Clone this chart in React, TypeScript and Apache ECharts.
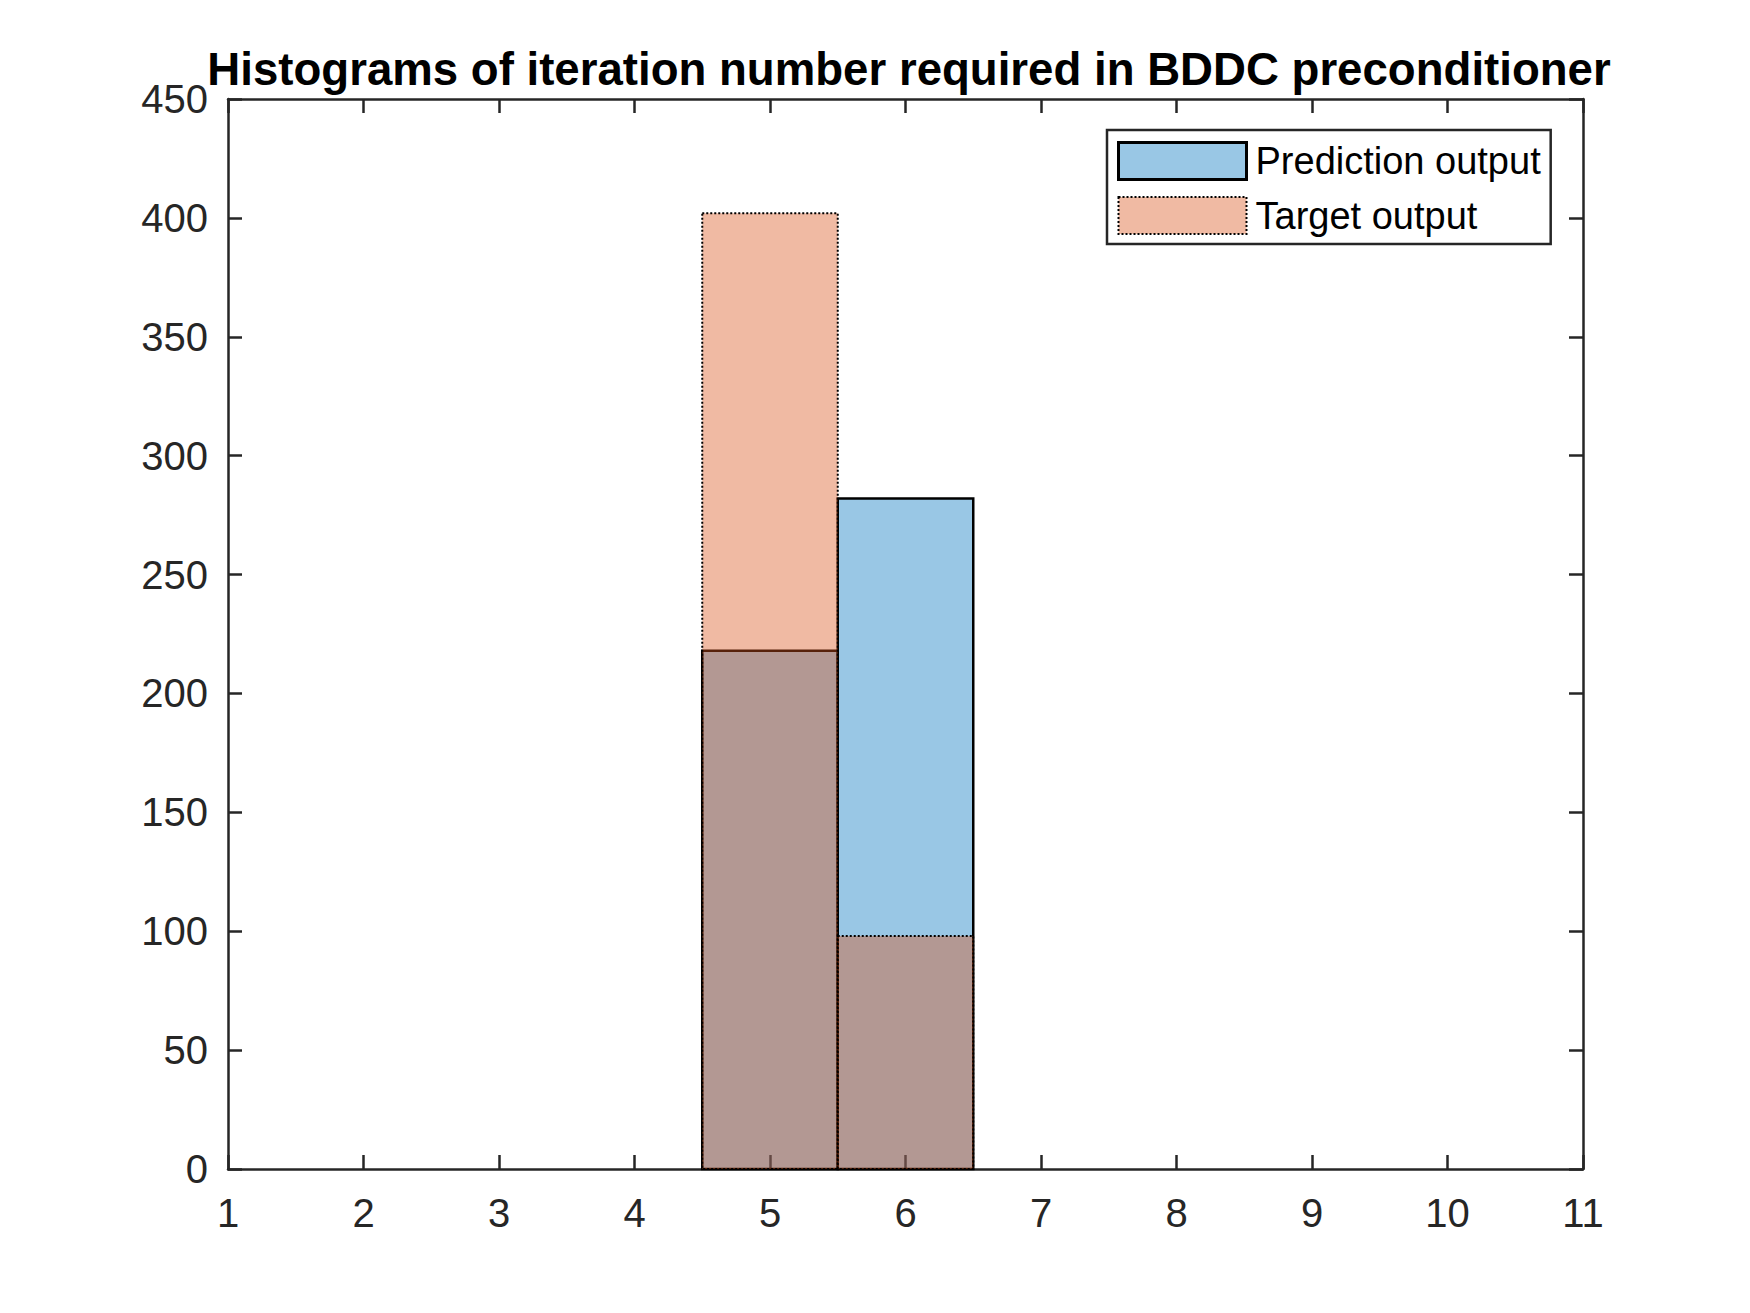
import React, { useEffect, useRef } from "react";
import * as echarts from "echarts";

const titleText = "Histograms of iteration number required in BDDC preconditioner";
const seriesNames = ["Prediction output", "Target output"];
const binStarts = [4.5, 5.5];
const binEnds = [5.5, 6.5];
const predictionCounts = [218, 282];
const targetCounts = [402, 98];
const xTicks = [1, 2, 3, 4, 5, 6, 7, 8, 9, 10, 11];
const yTicks = [0, 50, 100, 150, 200, 250, 300, 350, 400, 450];

const FONT = "'Liberation Sans', Arial, Helvetica, sans-serif";
const AXIS_COLOR = "#262626";
const BLUE = "rgba(0,114,189,0.4)";
const ORANGE = "rgba(217,83,25,0.4)";

function rectItem(fill: string, dash: number[] | null, width: number) {
  return (params: any, api: any) => {
    const x0 = api.value(0);
    const x1 = api.value(1);
    const y = api.value(2);
    const p0 = api.coord([x0, y]);
    const p1 = api.coord([x1, 0]);
    return {
      type: "rect",
      shape: { x: p0[0], y: p0[1], width: p1[0] - p0[0], height: p1[1] - p0[1] },
      style: {
        fill,
        stroke: "#000000",
        lineWidth: width,
        lineDash: dash || undefined,
      },
    };
  };
}

export default function App() {
  const ref = useRef<HTMLDivElement>(null);
  useEffect(() => {
    if (!ref.current) return;
    const chart = echarts.init(ref.current, null, { renderer: "svg" });
    const predData = binStarts.map((s, i) => [s, binEnds[i], predictionCounts[i]]);
    const targData = binStarts.map((s, i) => [s, binEnds[i], targetCounts[i]]);
    const xMin = xTicks[0];
    const xMax = xTicks[xTicks.length - 1];
    const yMin = yTicks[0];
    const yMax = yTicks[yTicks.length - 1];
    const axisCommon = {
      axisLine: { show: true, onZero: false, lineStyle: { color: AXIS_COLOR, width: 2.5 } },
      axisTick: { show: true, inside: true, length: 14, lineStyle: { color: AXIS_COLOR, width: 2.5 } },
      splitLine: { show: false },
    };
    chart.setOption({
      animation: false,
      backgroundColor: "#ffffff",
      title: {
        text: titleText,
        left: 904,
        top: 41,
        textAlign: "center",
        textStyle: { fontFamily: FONT, fontSize: 45.6, fontWeight: "bold", color: "#000000" },
      },
      grid: { left: 228, top: 99, right: 167, bottom: 144 },
      legend: {
        orient: "vertical",
        left: 1107,
        top: 130,
        padding: [11, 10, 9, 10],
        itemWidth: 128,
        itemHeight: 37,
        itemGap: 15,
        backgroundColor: "#ffffff",
        borderColor: AXIS_COLOR,
        borderWidth: 2.5,
        textStyle: { fontFamily: FONT, fontSize: 38, color: "#000000", padding: [0, 0, 0, 4] },
        data: [
          {
            name: seriesNames[0],
            icon: "rect",
            itemStyle: { color: BLUE, borderColor: "#000000", borderWidth: 3, borderType: "solid" },
          },
          {
            name: seriesNames[1],
            icon: "rect",
            itemStyle: { color: "rgba(240,186,163,1)", borderColor: "#000000", borderWidth: 2, borderType: [2, 2] },
          },
        ],
      },
      xAxis: [
        {
          type: "value",
          min: xMin,
          max: xMax,
          interval: 1,
          position: "bottom",
          ...axisCommon,
          axisLabel: { show: true, margin: 24, fontFamily: FONT, fontSize: 40, color: AXIS_COLOR },
        },
        {
          type: "value",
          min: xMin,
          max: xMax,
          interval: 1,
          position: "top",
          ...axisCommon,
          axisLabel: { show: false },
        },
      ],
      yAxis: [
        {
          type: "value",
          min: yMin,
          max: yMax,
          interval: 50,
          position: "left",
          ...axisCommon,
          axisLabel: { show: true, margin: 20, fontFamily: FONT, fontSize: 40, color: AXIS_COLOR },
        },
        {
          type: "value",
          min: yMin,
          max: yMax,
          interval: 50,
          position: "right",
          ...axisCommon,
          axisLabel: { show: false },
        },
      ],
      series: [
        {
          name: seriesNames[0],
          type: "custom",
          xAxisIndex: 0,
          yAxisIndex: 0,
          renderItem: rectItem(BLUE, null, 2.5),
          encode: { x: [0, 1], y: 2 },
          itemStyle: { color: BLUE },
          data: predData,
          z: 2,
        },
        {
          name: seriesNames[1],
          type: "custom",
          xAxisIndex: 0,
          yAxisIndex: 0,
          renderItem: rectItem(ORANGE, [2, 2], 2),
          encode: { x: [0, 1], y: 2 },
          itemStyle: { color: ORANGE },
          data: targData,
          z: 3,
        },
      ],
    });
    return () => chart.dispose();
  }, []);
  return (
    <div
      ref={ref}
      style={{ position: "fixed", left: 0, top: 0, width: 1750, height: 1313, background: "#fff" }}
    />
  );
}
